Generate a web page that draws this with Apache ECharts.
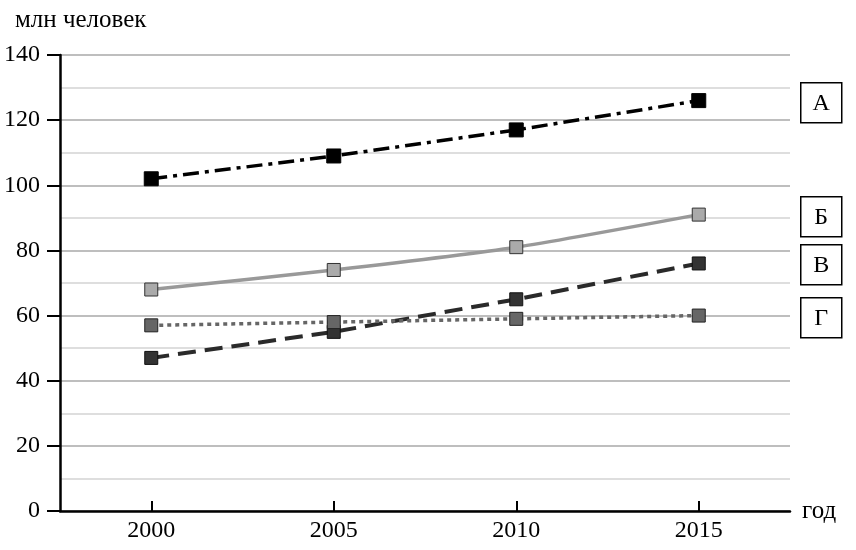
<!DOCTYPE html>
<html>
<head>
<meta charset="utf-8">
<script src="https://cdn.jsdelivr.net/npm/echarts@6/dist/echarts.min.js"></script>
<style>
  html, body { margin: 0; padding: 0; background: #fff; }
  #chart { width: 856px; height: 550px; }
</style>
</head>
<body>
<div id="chart"></div>
<script>
// данные
var years = [2000, 2005, 2010, 2015];
var seriesA = [102, 109, 117, 126];
var seriesB = [68, 74, 81, 91];
var seriesV = [47, 55, 65, 76];
var seriesG = [57, 58, 59, 60];
var names = ['А', 'Б', 'В', 'Г'];

function pairs(vals) {
  return years.map(function (y, i) { return [y, vals[i]]; });
}

var chart = echarts.init(document.getElementById('chart'));
var font = 'Liberation Serif';

var option = {
  animation: false,
  grid: { left: 60, right: 66, top: 55, bottom: 39 },
  xAxis: {
    type: 'value',
    min: 1997.5,
    max: 2017.5,
    axisLine: { lineStyle: { color: '#000', width: 2.5 } },
    axisTick: { inside: true, length: 10, customValues: years, lineStyle: { color: '#000', width: 2 } },
    axisLabel: {
      color: '#000', fontFamily: font, fontSize: 24, margin: 8, customValues: years,
      formatter: function (v) { return String(v); }
    },
    splitLine: { show: false },
    name: 'год',
    nameLocation: 'end',
    nameGap: 12,
    nameTextStyle: { color: '#000', fontFamily: font, fontSize: 25 }
  },
  yAxis: {
    type: 'value',
    min: 0,
    max: 140,
    interval: 20,
    axisLine: { show: true, lineStyle: { color: '#000', width: 2.5 } },
    axisTick: { show: true, length: 13, lineStyle: { color: '#000', width: 2 } },
    axisLabel: { color: '#000', fontFamily: font, fontSize: 24, margin: 20 },
    splitLine: { lineStyle: { color: '#a8a8a8', width: 1.5 } },
    minorTick: { show: false, splitNumber: 2 },
    minorSplitLine: { show: true, lineStyle: { color: '#d4d4d4', width: 1.5 } },
    name: 'млн человек',
    nameLocation: 'end',
    nameGap: 22,
    nameTextStyle: { color: '#000', fontFamily: font, fontSize: 25, align: 'left', padding: [0, 0, 0, -45] }
  },
  series: [
    {
      name: names[0], type: 'line', data: pairs(seriesA),
      symbol: 'rect', symbolSize: 14,
      lineStyle: { color: '#000', width: 3.5, type: [16, 6, 4, 6] },
      itemStyle: { color: '#000', borderColor: '#000', borderWidth: 1 },
      z: 5
    },
    {
      name: names[1], type: 'line', data: pairs(seriesB), smooth: 0.2,
      symbol: 'rect', symbolSize: 13,
      lineStyle: { color: '#999', width: 3.5 },
      itemStyle: { color: '#aaa', borderColor: '#333', borderWidth: 1 },
      z: 4
    },
    {
      name: names[2], type: 'line', data: pairs(seriesV),
      symbol: 'rect', symbolSize: 13,
      lineStyle: { color: '#2a2a2a', width: 4, type: [18, 9] },
      itemStyle: { color: '#333', borderColor: '#111', borderWidth: 1 },
      z: 3
    },
    {
      name: names[3], type: 'line', data: pairs(seriesG),
      symbol: 'rect', symbolSize: 13,
      lineStyle: { color: '#666', width: 3.5, type: [4, 4] },
      itemStyle: { color: '#666', borderColor: '#222', borderWidth: 1 },
      z: 4
    }
  ],
  graphic: [82, 196, 244, 297].map(function (top, i) {
    return {
      type: 'group',
      left: 800,
      top: top,
      children: [
        { type: 'rect', shape: { x: 0, y: 0, width: 41, height: 40 },
          style: { fill: '#fff', stroke: '#000', lineWidth: 1.5 } },
        { type: 'text', x: 20.5, y: 21,
          style: { text: names[i], fill: '#000', font: '24px "Liberation Serif"',
                   align: 'center', verticalAlign: 'middle' } }
      ]
    };
  })
};

chart.setOption(option);
</script>
</body>
</html>
